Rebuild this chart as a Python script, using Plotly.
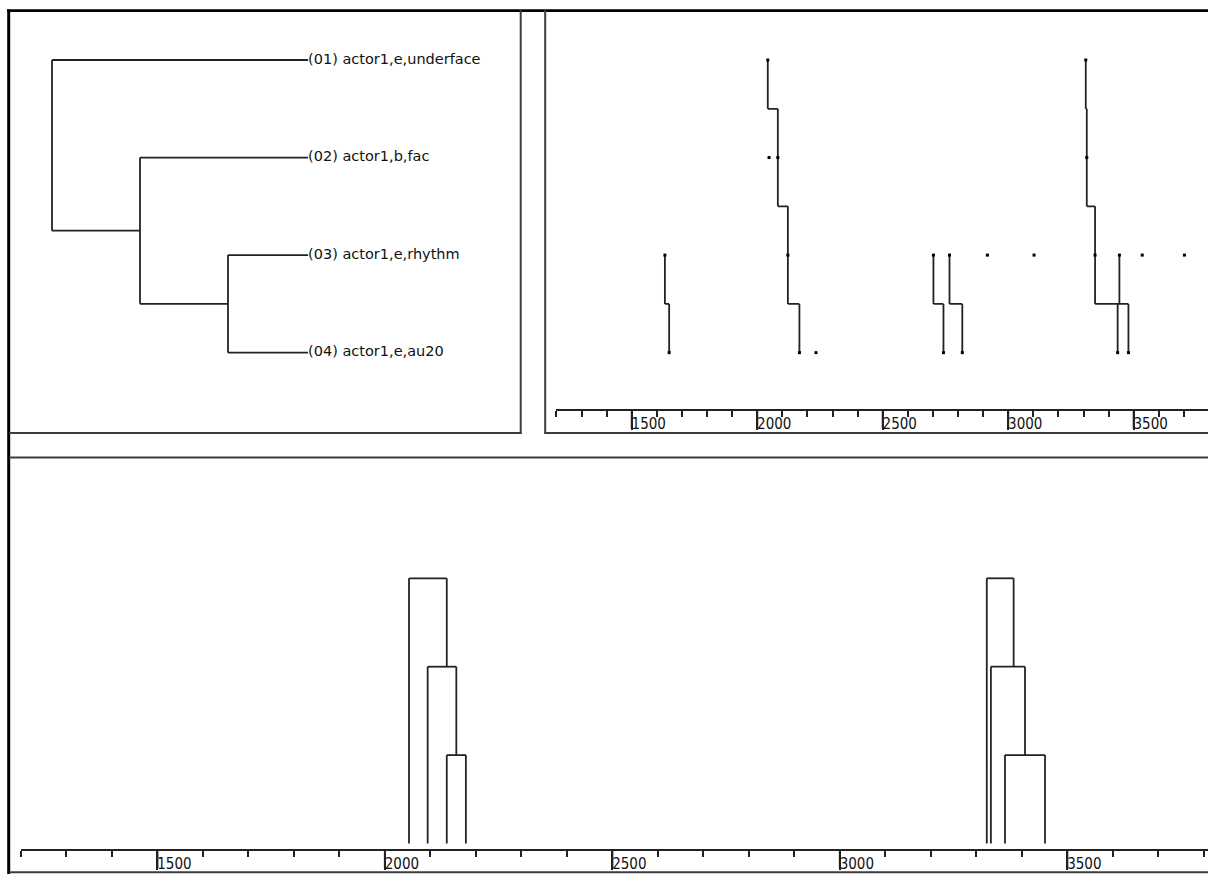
import plotly.graph_objects as go

W, H = 1208, 874

# ------------------------------------------------------------------ data
EVENT_LABELS = ["(01) actor1,e,underface", "(02) actor1,b,fac",
                "(03) actor1,e,rhythm", "(04) actor1,e,au20"]
ROWS = [1, 2, 3, 4]
# event-type dendrogram (child_a, child_b, height); leaves 1..4, new nodes 5,6,7
TYPE_LINKAGE = [[3, 4, 1.0], [2, 5, 2.0], [1, 6, 3.0]]

ROW1_TIMES = [2042, 3309]
ROW2_TIMES = [2047, 2082, 3313]
ROW3_TIMES = [1632, 2122, 2702, 2766, 2917, 3103, 3346, 3443, 3534, 3702]
ROW4_TIMES = [1649, 2168, 2234, 2742, 2817, 3436, 3479]

# pattern occurrences: first row + times on consecutive rows
OCC_FIRST_ROW = [3, 1, 3, 3, 1, 3]
OCC_TIMES = [[1632, 1649], [2042, 2082, 2122, 2168], [2702, 2742],
             [2766, 2817], [3309, 3313, 3346, 3479], [3443, 3436]]

# occurrence dendrograms (bottom panel)
CLUSTER_LEFT_LEAVES = [2053, 2094, 2136, 2178]
CLUSTER_RIGHT_LEAVES = [3323, 3332, 3363, 3451]
OCC_LINKAGE = [[3, 4, 1.0], [2, 5, 2.0], [1, 6, 3.0]]

AXIS_MIN = 1200
MAJOR_STEP = 500
MINOR_STEP = 100
MAJOR_TICKS = [1500, 2000, 2500, 3000, 3500]

# ------------------------------------------------------------------ styling / geometry
LINE_C = "#222222"
FRAME_C = "#3c3c3c"
LW = 1.8
LEAF_END = 0.09          # where leaf lines of the type dendrogram stop (level units)
TICK_FONT = dict(family="Liberation Sans Narrow, DejaVu Sans Condensed, Liberation Sans, Arial",
                 size=15, color="#111")
LABEL_FONT = dict(family="DejaVu Sans, Arial", size=14.5, color="#111")


def px_to_paper_x(p):
    return p / W


def px_to_paper_y(p):
    return 1 - p / H


def lin_inv(px, px_a, v_a, k):
    return v_a + (px - px_a) / k


ROW_PX0, ROW_K = 60.0, 97.55      # row r at pixel 60 + (r-1)*97.55
TR_A, TR_K = 631.7, 0.251         # top-right: 1500 at 631.7 px
B_A, B_K = 157.3, 0.455           # bottom: 1500 at 157.3 px
BL_A, BL_K = 843.5, 88.4          # bottom levels: level 0 at 843.5 px


def row_at(px):
    return 1 + (px - ROW_PX0) / ROW_K


def lvl_at(px):
    return 3 - (px - 52.0) / 88.0


def dendro(leaf_pos, linkage, leaf_level, node_rule):
    pos = {i + 1: p for i, p in enumerate(leaf_pos)}
    lev = {i + 1: leaf_level for i in range(len(leaf_pos))}
    mem = {i + 1: [p] for i, p in enumerate(leaf_pos)}
    P, L = [], []
    n = len(leaf_pos)
    for k, (a, b, h) in enumerate(linkage):
        nid = n + 1 + k
        for c in (a, b):
            P += [pos[c], pos[c], None]
            L += [lev[c], h, None]
        P += [pos[a], pos[b], None]
        L += [h, h, None]
        mem[nid] = mem[a] + mem[b]
        if node_rule == "mid":
            pos[nid] = (pos[a] + pos[b]) / 2
        else:
            pos[nid] = sum(mem[nid]) / len(mem[nid])
        lev[nid] = h
    return P, L


fig = go.Figure()

# ---- top-left: event-type dendrogram
P, L = dendro(ROWS, TYPE_LINKAGE, LEAF_END, "mid")
fig.add_trace(go.Scatter(x=L, y=P, mode="lines", line=dict(color=LINE_C, width=LW),
                         xaxis="x", yaxis="y", hoverinfo="skip", showlegend=False))
fig.add_trace(go.Scatter(x=[LEAF_END] * len(ROWS), y=ROWS, mode="text", text=EVENT_LABELS,
                         textposition="middle right", textfont=LABEL_FONT,
                         xaxis="x", yaxis="y", hoverinfo="skip", showlegend=False))

# ---- top-right: pattern staircases + event dots
sx, sy = [], []
for r0, times in zip(OCC_FIRST_ROW, OCC_TIMES):
    for i, t in enumerate(times):
        r = r0 + i
        top = r if i == 0 else r - 0.5
        bot = r if i == len(times) - 1 else r + 0.5
        sx += [t, t, None]
        sy += [top, bot, None]
    for i in range(len(times) - 1):
        sx += [times[i], times[i + 1], None]
        sy += [r0 + i + 0.5, r0 + i + 0.5, None]
fig.add_trace(go.Scatter(x=sx, y=sy, mode="lines", line=dict(color=LINE_C, width=LW),
                         xaxis="x2", yaxis="y2", hoverinfo="skip", showlegend=False))
for r, times in zip(ROWS, [ROW1_TIMES, ROW2_TIMES, ROW3_TIMES, ROW4_TIMES]):
    fig.add_trace(go.Scatter(x=times, y=[r] * len(times), mode="markers",
                             marker=dict(symbol="square", size=3, color="#000"),
                             xaxis="x2", yaxis="y2", hoverinfo="skip", showlegend=False,
                             cliponaxis=False))

# ---- bottom: occurrence dendrograms
for leaves in (CLUSTER_LEFT_LEAVES, CLUSTER_RIGHT_LEAVES):
    P, L = dendro(leaves, OCC_LINKAGE, 0.0, "mean")
    fig.add_trace(go.Scatter(x=P, y=L, mode="lines", line=dict(color=LINE_C, width=LW),
                             xaxis="x3", yaxis="y3", hoverinfo="skip", showlegend=False))

# ---- long major tick marks (drawn in thin strips under each time axis)
mx, my = [], []
for t in MAJOR_TICKS:
    mx += [t, t, None]
    my += [0, 1, None]
fig.add_trace(go.Scatter(x=mx, y=my, mode="lines", line=dict(color=LINE_C, width=2),
                         xaxis="x2", yaxis="y4", hoverinfo="skip", showlegend=False))
fig.add_trace(go.Scatter(x=mx, y=my, mode="lines", line=dict(color=LINE_C, width=2),
                         xaxis="x3", yaxis="y5", hoverinfo="skip", showlegend=False))

# ------------------------------------------------------------------ axes
tl_x0, tl_x1, tl_y0, tl_y1 = 11, 519, 12, 432
tr_x0 = TR_A + (AXIS_MIN - 1500) * TR_K
tr_x1, tr_y0, tr_y1 = W, 12, 409.3
b_x0 = B_A + (AXIS_MIN - 1500) * B_K
b_x1, b_y0, b_y1 = W, 458, 849.3
TICK_STRIP = 19.0

hidden = dict(visible=False, showgrid=False, zeroline=False, fixedrange=True)


def time_axis(x0, x1, a, k, anchor):
    return dict(
        domain=[px_to_paper_x(x0), px_to_paper_x(x1)],
        range=[lin_inv(x0, a, 1500, k) - 0.3, lin_inv(x1, a, 1500, k)],
        anchor=anchor, showgrid=False, zeroline=False,
        showline=True, linecolor=LINE_C, linewidth=2,
        ticks="outside", ticklen=19, tickwidth=2, tickcolor=LINE_C,
        tick0=0, dtick=MAJOR_STEP,
        minor=dict(ticks="outside", ticklen=6, tickwidth=2, tickcolor=LINE_C,
                   tick0=0, dtick=MINOR_STEP, showgrid=False),
        tickfont=TICK_FONT, ticklabelshift=17, ticklabelstandoff=-19,
        ticklabeloverflow="allow", fixedrange=True,
    )


def strip_axis(y_top, anchor):
    return dict(hidden, domain=[px_to_paper_y(y_top + TICK_STRIP), px_to_paper_y(y_top)],
                range=[0, 1], anchor=anchor)


fig.update_layout(
    width=W, height=H, margin=dict(l=0, r=0, t=0, b=0), autosize=False,
    paper_bgcolor="white", plot_bgcolor="rgba(0,0,0,0)", showlegend=False,
    xaxis=dict(hidden, domain=[px_to_paper_x(tl_x0), px_to_paper_x(tl_x1)],
               range=[lvl_at(tl_x0), lvl_at(tl_x1)], anchor="y"),
    yaxis=dict(hidden, domain=[px_to_paper_y(tl_y1), px_to_paper_y(tl_y0)],
               range=[row_at(tl_y1), row_at(tl_y0)], anchor="x"),
    xaxis2=time_axis(tr_x0, tr_x1, TR_A, TR_K, "y2"),
    yaxis2=dict(hidden, domain=[px_to_paper_y(tr_y1), px_to_paper_y(tr_y0)],
                range=[row_at(tr_y1), row_at(tr_y0)], anchor="x2"),
    xaxis3=time_axis(b_x0, b_x1, B_A, B_K, "y3"),
    yaxis3=dict(hidden, domain=[px_to_paper_y(b_y1), px_to_paper_y(b_y0)],
                range=[(BL_A - b_y1) / BL_K, (BL_A - b_y0) / BL_K], anchor="x3"),
    yaxis4=strip_axis(tr_y1, "x2"),
    yaxis5=strip_axis(b_y1, "x3"),
)

# ------------------------------------------------------------------ panel frames
def hline(y, x0, x1, color, w):
    fig.add_shape(type="line", xref="paper", yref="paper",
                  x0=px_to_paper_x(x0), x1=px_to_paper_x(x1),
                  y0=px_to_paper_y(y), y1=px_to_paper_y(y),
                  line=dict(color=color, width=w))


def vline(x, y0, y1, color, w):
    fig.add_shape(type="line", xref="paper", yref="paper",
                  x0=px_to_paper_x(x), x1=px_to_paper_x(x),
                  y0=px_to_paper_y(y0), y1=px_to_paper_y(y1),
                  line=dict(color=color, width=w))


vline(8.7, 9.5, H, "#000", 3)
hline(10.6, 7, W, "#000", 2.6)
vline(520.7, 10, 434, FRAME_C, 2)
hline(433, 9, 521.5, FRAME_C, 2)
vline(545.2, 10, 434, FRAME_C, 2)
hline(433, 544.5, W, FRAME_C, 2)
hline(457.4, 9, W, FRAME_C, 2)
hline(872.2, 9, W, FRAME_C, 2)

fig.write_html("out.html")
